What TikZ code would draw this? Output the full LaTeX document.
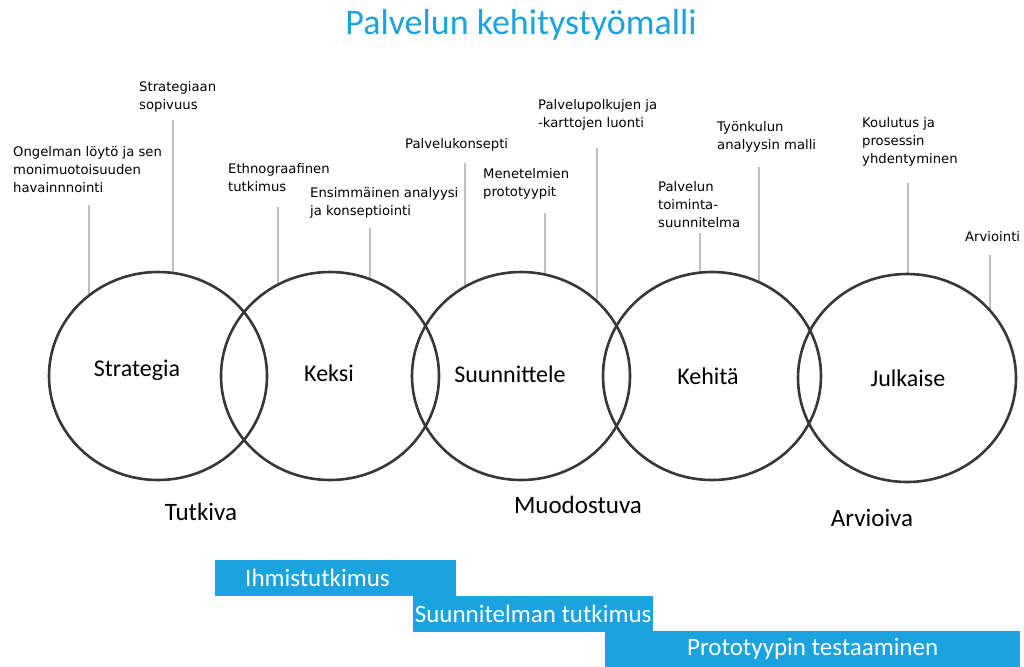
\documentclass[tikz,border=0pt]{standalone}
\usepackage{fontspec}
\setmainfont{Carlito}
\newfontfamily\pienifont{DejaVu Sans}
\usepackage{tikz}
\usetikzlibrary{shapes.geometric}
\definecolor{palvelusini}{RGB}{27,163,224}
\definecolor{rengasharmaa}{RGB}{55,55,55}
\definecolor{tikkuharmaa}{RGB}{190,190,190}
\tikzset{
	x=1pt, y=-1pt, % yksi pikseli = yksi piste
	vaihe/.style={ellipse, draw=rengasharmaa, line width=2.6pt, minimum width=218, minimum height=208, inner sep=0pt}, % ympyrat
	nimi/.style={font=\fontsize{24}{28}\selectfont, inner sep=0pt}, % ympyran teksti
	tieto/.style={font=\pienifont\fontsize{13.2}{18}\selectfont, align=left, anchor=north west, inner sep=0pt}, % pienet tekstit
	tikku/.style={draw=tikkuharmaa, line width=2.4pt}, % pystyviivat
	jakso/.style={font=\fontsize{25}{29}\selectfont, inner sep=0pt}, % alatekstit
	palkki/.style={fill=palvelusini, text=white, font=\fontsize{25}{29}\selectfont, anchor=north west, minimum height=36, inner ysep=0pt} % siniset palkit
}

\begin{document}
\begin{tikzpicture}
	\useasboundingbox (0,0) rectangle (1024,666);
	\node[font=\fontsize{36}{40}\selectfont, text=palvelusini] (otsikko) at (521,25) {Palvelun kehitystyömalli};

	\node[tieto] (t1) at (13,146.5) {Ongelman löytö ja sen\\monimuotoisuuden\\havainnnointi};
	\node[tieto] (t2) at (139,81) {Strategiaan\\sopivuus};
	\node[tieto] (t3) at (228,163) {Ethnograafinen\\tutkimus};
	\node[tieto] (t4) at (310,187) {Ensimmäinen analyysi\\ja konseptiointi};
	\node[tieto] (t5) at (405,138) {Palvelukonsepti};
	\node[tieto] (t6) at (483,168) {Menetelmien\\prototyypit};
	\node[tieto] (t7) at (538,99) {Palvelupolkujen ja\\-karttojen luonti};
	\node[tieto] (t8) at (658,181) {Palvelun\\toiminta-\\suunnitelma};
	\node[tieto] (t9) at (717,121) {Työnkulun\\analyysin malli};
	\node[tieto] (t10) at (862,117) {Koulutus ja\\prosessin\\yhdentyminen};
	\node[tieto] (t11) at (965,231) {Arviointi};

	\coordinate (k1) at (158,376);
	\coordinate (k2) at (330,376);
	\coordinate (k3) at (521,376);
	\coordinate (k4) at (712,376);
	\coordinate (k5) at (907,378);

	\coordinate (v1) at (89,205);
	\coordinate (v2) at (173,120);
	\coordinate (v3) at (278,207);
	\coordinate (v4) at (370,228);
	\coordinate (v5) at (465,163);
	\coordinate (v6) at (545,213);
	\coordinate (v7) at (597,148);
	\coordinate (v8) at (700,233);
	\coordinate (v9) at (759,167);
	\coordinate (v10) at (908,183);
	\coordinate (v11) at (990,255);
	\foreach \v/\k in {v1/k1, v2/k1, v3/k2, v4/k2, v5/k3, v6/k3, v7/k3, v8/k4, v9/k4, v10/k5, v11/k5}
		\draw[tikku] (\v) -- (\v |- \k);

	\foreach \k in {k1,k2,k3,k4,k5}
		\fill[white] (\k) ellipse (109 and 104);

	\node[vaihe] (strategia) at (k1) {};
	\node[vaihe] (keksi) at (k2) {};
	\node[vaihe] (suunnittele) at (k3) {};
	\node[vaihe] (kehita) at (k4) {};
	\node[vaihe] (julkaise) at (k5) {};

	\node[nimi] (n1) at (137,370) {Strategia};
	\node[nimi] (n2) at (329,373) {Keksi};
	\node[nimi] (n3) at (510,374) {Suunnittele};
	\node[nimi] (n4) at (708,376) {Kehitä};
	\node[nimi] (n5) at (908,378) {Julkaise};

	\node[jakso] (tutkiva) at (201,512) {Tutkiva};
	\node[jakso] (muodostuva) at (578,505) {Muodostuva};
	\node[jakso] (arvioiva) at (872,518) {Arvioiva};

	\node[palkki, minimum width=241, text width=181, align=left, inner xsep=30pt] (p1) at (215,560) {Ihmistutkimus};
	\node[palkki, minimum width=240, inner xsep=0pt] (p2) at (413,596) {Suunnitelman tutkimus};
	\node[palkki, minimum width=415, inner xsep=0pt] (p3) at (605,631) {Prototyypin testaaminen};
\end{tikzpicture}
\end{document}
